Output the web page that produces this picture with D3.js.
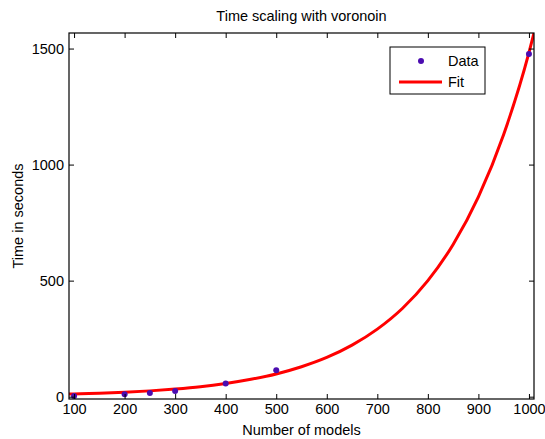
<!DOCTYPE html>
<html>
<head>
<meta charset="utf-8">
<script src="https://cdn.jsdelivr.net/npm/d3@7"></script>
<style>
  body { margin: 0; background: #fff; }
  text { font-family: "Liberation Sans", Arial, sans-serif; }
</style>
</head>
<body>
<div id="chart"></div>
<script>
// data
const models = [100, 200, 250, 300, 400, 500, 1000]
const seconds = [3, 10, 16, 24, 57, 114, 1477]
const fitX = [90, 100, 150, 200, 250, 300, 350, 400, 450, 500, 550, 600, 650, 700, 750, 800, 850, 900, 950, 1000, 1010]
const fitY = [11, 12, 15, 19, 25, 33, 43, 57, 75, 98, 129, 169, 222, 291, 381, 500, 656, 861, 1130, 1482, 1567]
const xTicks = [100, 200, 300, 400, 500, 600, 700, 800, 900, 1000]
const yTicks = [0, 500, 1000, 1500]

const W = 545, H = 439
const box = {left: 69, right: 534, top: 33, bottom: 399}
const FONT = 14.5
const DOT_COLOR = '#4b0cb0'

const x = d3.scaleLinear().domain([90, 1010]).range([box.left, box.right])
const y = d3.scaleLinear().domain([-10, 1567]).range([box.bottom, box.top])

const svg = d3.select('#chart').append('svg').attr('width', W).attr('height', H)

svg.append('clipPath').attr('id', 'clip')
  .append('rect').attr('x', box.left).attr('y', box.top)
  .attr('width', box.right - box.left).attr('height', box.bottom - box.top)

// fit curve
svg.append('path')
  .datum(fitX.map((v, i) => [v, fitY[i]]))
  .attr('clip-path', 'url(#clip)')
  .attr('d', d3.line().x(d => x(d[0])).y(d => y(d[1])).curve(d3.curveMonotoneX))
  .attr('fill', 'none').attr('stroke', '#ff0000').attr('stroke-width', 3)

// data points
svg.selectAll('circle.pt')
  .data(models.map((v, i) => [v, seconds[i]]))
  .enter().append('circle').classed('pt', true)
  .attr('cx', d => x(d[0])).attr('cy', d => y(d[1])).attr('r', 3)
  .attr('fill', DOT_COLOR)

// axes, MATLAB style: ticks inside, mirrored on top and right
const TICK = 5
const fmt = d3.format('d')
svg.append('g').attr('transform', `translate(0,${box.bottom})`)
  .call(d3.axisBottom(x).tickValues(xTicks).tickFormat(fmt).tickSizeInner(-TICK).tickSizeOuter(0).tickPadding(5))
svg.append('g').attr('transform', `translate(0,${box.top})`)
  .call(d3.axisTop(x).tickValues(xTicks).tickSizeInner(-TICK).tickSizeOuter(0).tickFormat(''))
svg.append('g').attr('transform', `translate(${box.left},0)`)
  .call(d3.axisLeft(y).tickValues(yTicks).tickFormat(fmt).tickSizeInner(-TICK).tickSizeOuter(0).tickPadding(5))
svg.append('g').attr('transform', `translate(${box.right},0)`)
  .call(d3.axisRight(y).tickValues(yTicks).tickSizeInner(-TICK).tickSizeOuter(0).tickFormat(''))

svg.selectAll('.tick text').attr('font-size', FONT).attr('fill', '#000')
  .style('font-family', '"Liberation Sans", Arial, sans-serif')
svg.selectAll('.domain').remove()
svg.selectAll('.tick line').attr('stroke', '#000')

svg.append('rect')
  .attr('x', box.left).attr('y', box.top)
  .attr('width', box.right - box.left).attr('height', box.bottom - box.top)
  .attr('fill', 'none').attr('stroke', '#000').attr('stroke-width', 1.2)

// title and labels
svg.append('text').attr('x', (box.left + box.right) / 2).attr('y', 21)
  .attr('text-anchor', 'middle').attr('font-size', FONT).text('Time scaling with voronoin')
svg.append('text').attr('x', (box.left + box.right) / 2).attr('y', 435)
  .attr('text-anchor', 'middle').attr('font-size', FONT).text('Number of models')
svg.append('text').attr('transform', `translate(23,${(box.top + box.bottom) / 2}) rotate(-90)`)
  .attr('text-anchor', 'middle').attr('font-size', FONT).text('Time in seconds')

// legend
const lg = svg.append('g').attr('transform', 'translate(390,47)')
lg.append('rect').attr('width', 95).attr('height', 47)
  .attr('fill', '#fff').attr('stroke', '#000').attr('stroke-width', 1)
lg.append('circle').attr('cx', 31).attr('cy', 14).attr('r', 3).attr('fill', DOT_COLOR)
lg.append('text').attr('x', 58).attr('y', 19).attr('font-size', FONT).text('Data')
lg.append('line').attr('x1', 9).attr('x2', 52).attr('y1', 35).attr('y2', 35)
  .attr('stroke', '#ff0000').attr('stroke-width', 3)
lg.append('text').attr('x', 58).attr('y', 40).attr('font-size', FONT).text('Fit')
</script>
</body>
</html>
